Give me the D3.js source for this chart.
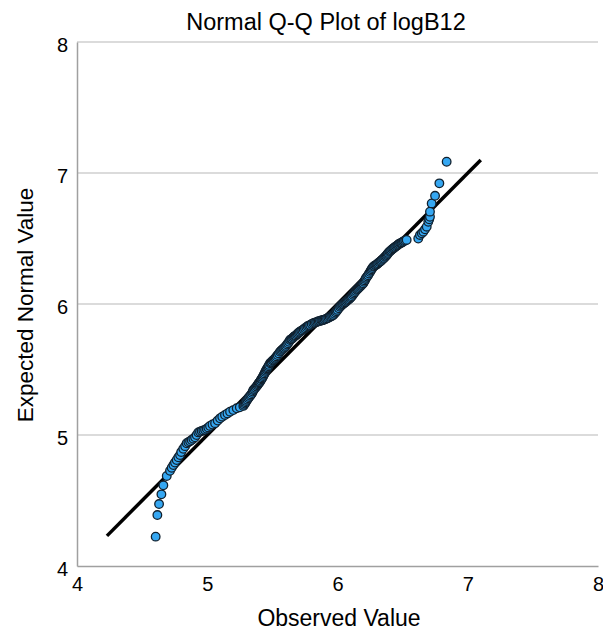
<!DOCTYPE html>
<html>
<head>
<meta charset="utf-8">
<script src="https://cdn.jsdelivr.net/npm/d3@7"></script>
<style>
  html, body { margin: 0; padding: 0; background: #fff; }
  svg { display: block; font-family: "Liberation Sans", Arial, sans-serif; }
</style>
</head>
<body>
<svg id="chart" width="603" height="630"></svg>
<script>
// Observed log B12 values (sorted) ...
const observed = [
  4.604, 4.617, 4.630, 4.648, 4.663, 4.689, 4.714, 4.727, 4.740, 4.752,
  4.765, 4.778, 4.791, 4.800, 4.816, 4.830, 4.842, 4.855, 4.868, 4.880,
  4.893, 4.906, 4.918, 4.931, 4.944, 4.957, 4.970, 4.983, 4.996, 5.008,
  5.021, 5.040, 5.060, 5.080, 5.098, 5.115, 5.136, 5.155, 5.175, 5.200,
  5.226, 5.250, 5.277,
  5.283, 5.290, 5.295, 5.300, 5.308, 5.315, 5.322, 5.330, 5.337, 5.345,
  5.350, 5.354, 5.362, 5.370, 5.378, 5.385, 5.390, 5.395, 5.400, 5.405,
  5.410, 5.415, 5.420, 5.425, 5.430, 5.435, 5.440, 5.445, 5.450, 5.455,
  5.460, 5.465, 5.470, 5.475, 5.482, 5.488, 5.495, 5.503, 5.510, 5.518,
  5.525, 5.532, 5.540, 5.550, 5.559, 5.567, 5.575, 5.583, 5.590, 5.598,
  5.605, 5.612, 5.620, 5.628, 5.635, 5.643, 5.650, 5.658, 5.665, 5.672,
  5.680, 5.688, 5.695, 5.703, 5.712, 5.721, 5.730, 5.740, 5.750, 5.760,
  5.770, 5.780, 5.790, 5.802, 5.814, 5.825, 5.835, 5.845, 5.855, 5.865,
  5.875, 5.883, 5.891, 5.900, 5.910, 5.920, 5.930, 5.940, 5.950, 5.959,
  5.968, 5.976, 5.985, 5.992, 6.000, 6.010, 6.019, 6.027, 6.035, 6.042,
  6.050, 6.058, 6.065, 6.072, 6.080, 6.088, 6.096, 6.103, 6.110, 6.118,
  6.125, 6.132, 6.140, 6.148, 6.155, 6.162, 6.170, 6.178, 6.185, 6.192,
  6.198, 6.204, 6.210, 6.215, 6.220, 6.228, 6.235, 6.242, 6.250, 6.256,
  6.262, 6.268, 6.275, 6.282, 6.290, 6.298, 6.305, 6.312, 6.320, 6.328,
  6.335, 6.342, 6.350, 6.358, 6.365, 6.372, 6.378, 6.384, 6.390, 6.398,
  6.405, 6.412, 6.420, 6.428, 6.435, 6.442, 6.450, 6.458, 6.465, 6.472,
  6.480, 6.488, 6.495, 6.503, 6.510, 6.520, 6.531,
  6.620, 6.633, 6.647, 6.659, 6.672, 6.685, 6.697, 6.704, 6.710, 6.710,
  6.723, 6.749, 6.782, 6.838
];
// ... and the expected normal value for each of them
const expected = [
  4.224, 4.389, 4.473, 4.547, 4.616, 4.687, 4.727, 4.750, 4.771, 4.790,
  4.809, 4.830, 4.847, 4.870, 4.895, 4.915, 4.937, 4.945, 4.952, 4.962,
  4.972, 4.982, 5.000, 5.020, 5.025, 5.030, 5.035, 5.040, 5.048, 5.058,
  5.069, 5.080, 5.090, 5.110, 5.127, 5.140, 5.153, 5.165, 5.178, 5.190,
  5.204, 5.212, 5.222,
  5.230, 5.240, 5.250, 5.260, 5.270, 5.280, 5.290, 5.300, 5.310, 5.320,
  5.332, 5.344, 5.352, 5.360, 5.370, 5.380, 5.388, 5.395, 5.401, 5.407,
  5.416, 5.425, 5.432, 5.440, 5.450, 5.460, 5.470, 5.480, 5.490, 5.500,
  5.508, 5.515, 5.525, 5.535, 5.547, 5.553, 5.560, 5.568, 5.575, 5.582,
  5.590, 5.600, 5.610, 5.623, 5.636, 5.643, 5.650, 5.658, 5.665, 5.672,
  5.680, 5.690, 5.700, 5.712, 5.725, 5.730, 5.735, 5.742, 5.750, 5.755,
  5.760, 5.768, 5.775, 5.782, 5.789, 5.795, 5.800, 5.808, 5.815, 5.822,
  5.830, 5.835, 5.840, 5.847, 5.853, 5.857, 5.860, 5.864, 5.868, 5.871,
  5.874, 5.876, 5.878, 5.881, 5.885, 5.890, 5.895, 5.900, 5.905, 5.910,
  5.916, 5.925, 5.935, 5.945, 5.955, 5.967, 5.979, 5.987, 5.995, 6.000,
  6.005, 6.012, 6.018, 6.024, 6.030, 6.036, 6.043, 6.051, 6.060, 6.070,
  6.080, 6.090, 6.100, 6.108, 6.115, 6.122, 6.130, 6.138, 6.145, 6.152,
  6.158, 6.169, 6.180, 6.190, 6.200, 6.210, 6.220, 6.232, 6.245, 6.255,
  6.265, 6.275, 6.285, 6.290, 6.295, 6.300, 6.305, 6.311, 6.318, 6.324,
  6.330, 6.337, 6.345, 6.352, 6.360, 6.367, 6.374, 6.382, 6.390, 6.398,
  6.405, 6.411, 6.418, 6.424, 6.430, 6.435, 6.440, 6.446, 6.452, 6.458,
  6.463, 6.466, 6.470, 6.475, 6.480, 6.484, 6.489,
  6.500, 6.527, 6.540, 6.552, 6.570, 6.590, 6.628, 6.646, 6.666, 6.705,
  6.768, 6.826, 6.921, 7.086
];
// Reference line (y = x) endpoints
const refLine = [4.23, 7.10];
const xTicks = [4, 5, 6, 7, 8];
const yTicks = [4, 5, 6, 7, 8];

const svg = d3.select("#chart");
const plotLeft = 77, plotRight = 598, plotTop = 42, plotBottom = 566;

const x = d3.scaleLinear().domain([4, 8]).range([plotLeft, plotRight]);
const y = d3.scaleLinear().domain([4, 8]).range([plotBottom, plotTop]);

// Horizontal gridlines
svg.append("g")
  .selectAll("line")
  .data(yTicks.filter(d => d > 4))
  .join("line")
  .attr("x1", plotLeft).attr("x2", plotRight)
  .attr("y1", d => y(d)).attr("y2", d => y(d))
  .attr("stroke", "#cfcfcf").attr("stroke-width", 1.5);

// Axes
const xAxis = svg.append("g")
  .attr("transform", `translate(0,${plotBottom})`)
  .call(d3.axisBottom(x).tickValues(xTicks).tickFormat(d3.format("d"))
    .tickSize(0).tickPadding(11));
const yAxis = svg.append("g")
  .attr("transform", `translate(${plotLeft},0)`)
  .call(d3.axisLeft(y).tickValues(yTicks).tickFormat(d3.format("d"))
    .tickSize(0).tickPadding(9));

[xAxis, yAxis].forEach(g => {
  g.select(".domain").attr("stroke", "#a0a0a0").attr("stroke-width", 1.5);
  g.selectAll("text")
    .attr("font-family", "Liberation Sans, Arial, sans-serif")
    .attr("font-size", 20).attr("fill", "#000");
});
xAxis.selectAll("text").attr("dy", "0.71em");
yAxis.selectAll("text").attr("dy", "0.45em");

// Reference line
svg.append("line")
  .attr("x1", x(refLine[0])).attr("y1", y(refLine[0]))
  .attr("x2", x(refLine[1])).attr("y2", y(refLine[1]))
  .attr("stroke", "#000").attr("stroke-width", 3.5);

// Q-Q points
svg.append("g")
  .selectAll("circle")
  .data(observed.map((o, i) => [o, expected[i]]))
  .join("circle")
  .attr("cx", d => x(d[0]))
  .attr("cy", d => y(d[1]))
  .attr("r", 4.3)
  .attr("fill", "#35a7f2")
  .attr("stroke", "#10202e")
  .attr("stroke-width", 1.3);

// Titles
svg.append("text")
  .attr("x", 326).attr("y", 30)
  .attr("text-anchor", "middle")
  .attr("font-size", 23.5)
  .text("Normal Q-Q Plot of logB12");

svg.append("text")
  .attr("x", 339).attr("y", 626)
  .attr("text-anchor", "middle")
  .attr("font-size", 23)
  .text("Observed Value");

svg.append("text")
  .attr("transform", "translate(33,305) rotate(-90)")
  .attr("text-anchor", "middle")
  .attr("font-size", 22.5)
  .text("Expected Normal Value");
</script>
</body>
</html>
